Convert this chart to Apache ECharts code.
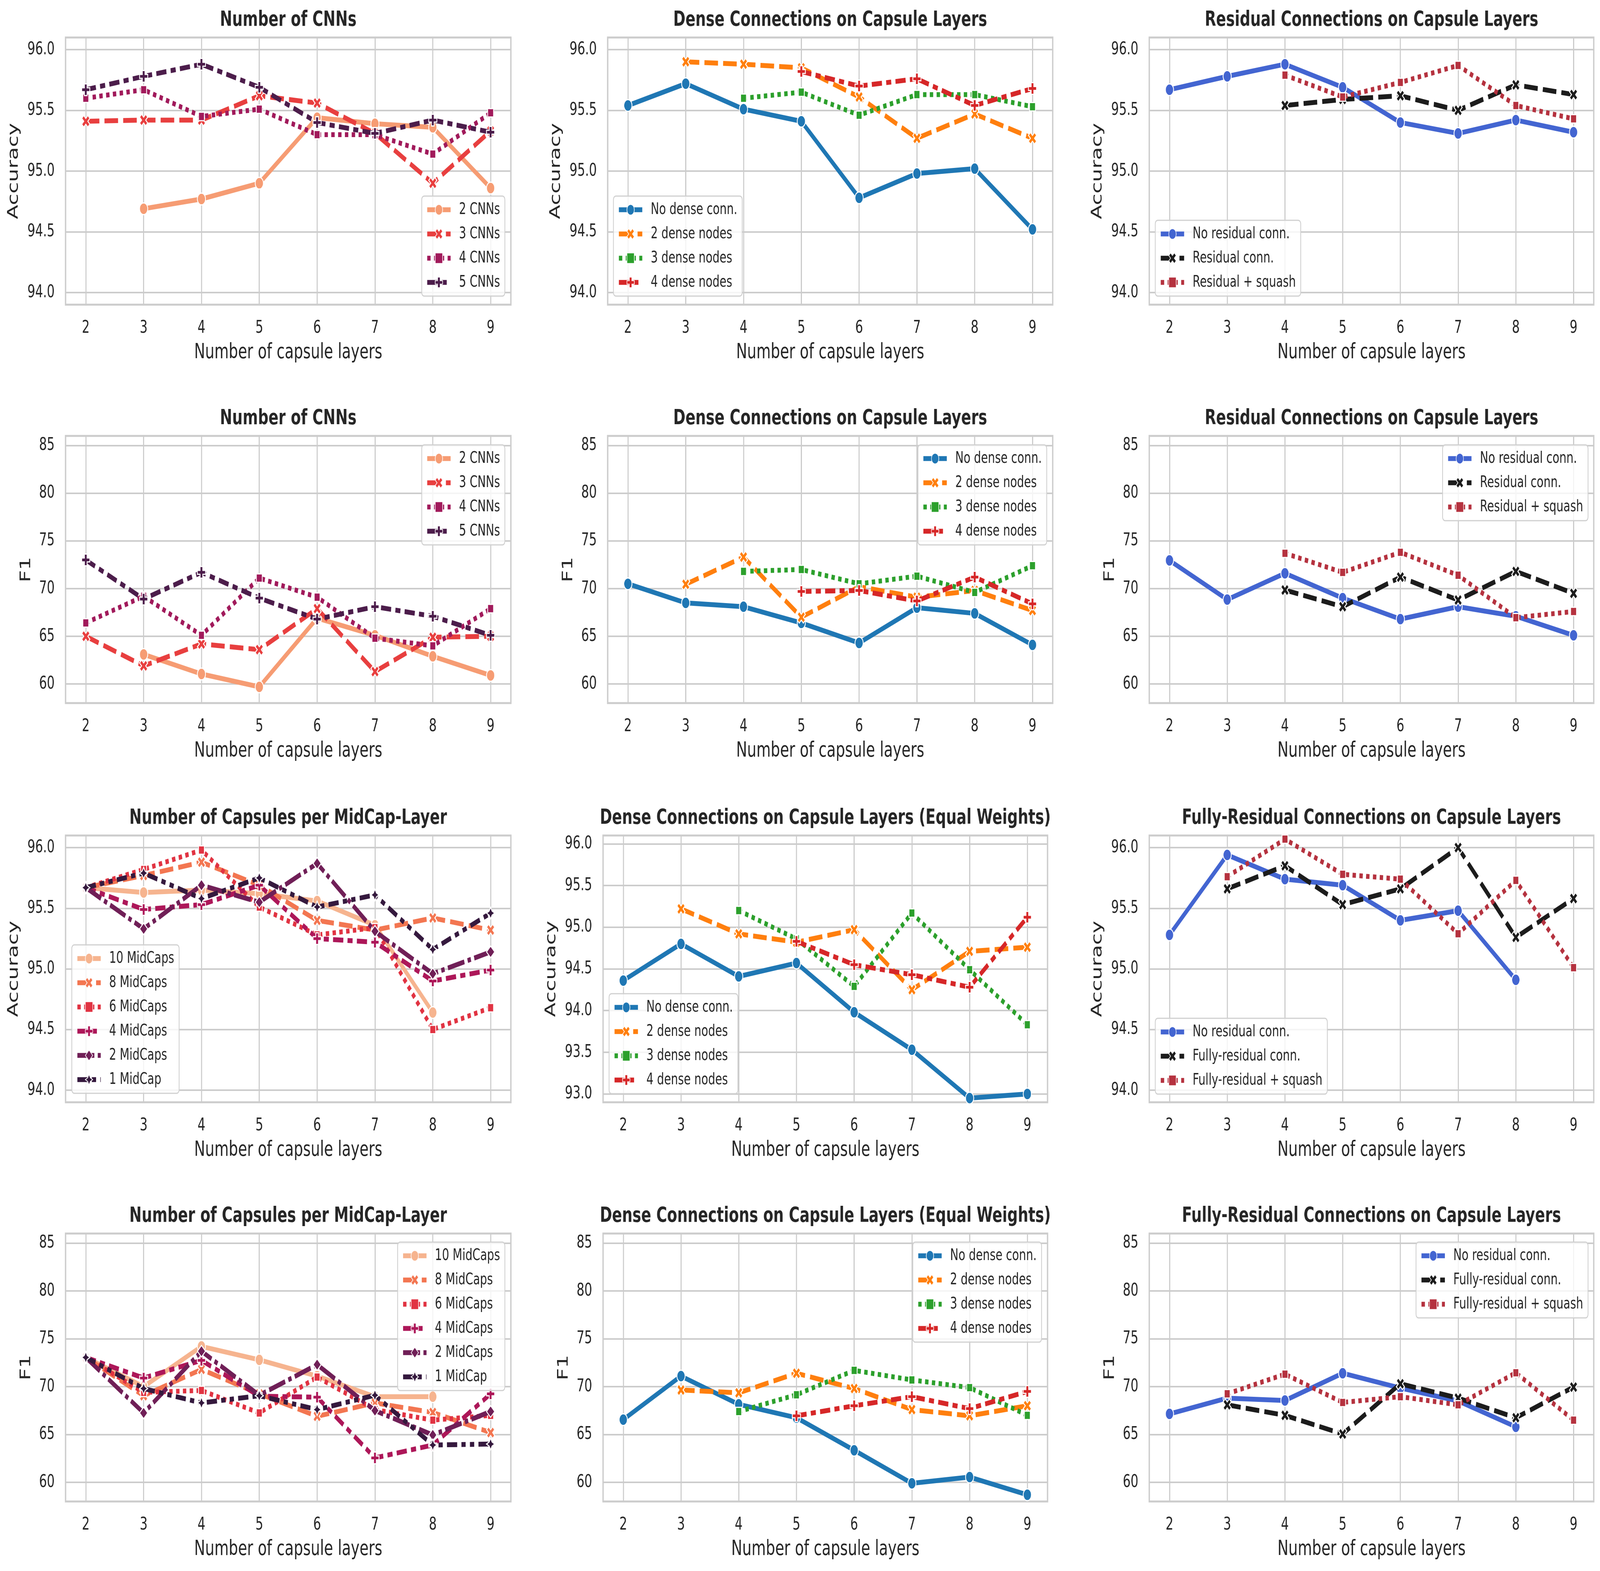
<!DOCTYPE html>
<html><head><meta charset="utf-8">
<script src="https://cdn.jsdelivr.net/npm/echarts@6/dist/echarts.min.js"></script>
<style>
html,body{margin:0;padding:0;background:#fff;overflow:hidden;}
#wrap{position:relative;overflow:hidden;background:#fff;}
#c{position:absolute;left:0;top:0;width:5882px;height:4022px;transform-origin:0 0;}
</style>
</head><body><div id="wrap"><div id="c"></div></div>
<script>
// ---------------- DATA ----------------
const layers = [2, 3, 4, 5, 6, 7, 8, 9];
const accTicks = [94.0, 94.5, 95.0, 95.5, 96.0];
const accTicksEq = [93.0, 93.5, 94.0, 94.5, 95.0, 95.5, 96.0];
const f1Ticks = [60, 65, 70, 75, 80, 85];

// Panel 1: Number of CNNs (Accuracy)
const accCnn2 = [null, 94.69, 94.77, 94.90, 95.44, 95.39, 95.36, 94.86];
const accCnn3 = [95.41, 95.42, 95.42, 95.62, 95.56, 95.31, 94.90, 95.33];
const accCnn4 = [95.60, 95.67, 95.45, 95.51, 95.30, 95.30, 95.14, 95.48];
const accCnn5 = [95.67, 95.78, 95.88, 95.69, 95.40, 95.31, 95.42, 95.32];
// Panel 2: Dense (Accuracy)
const accNoDense = [95.54, 95.72, 95.51, 95.41, 94.78, 94.98, 95.02, 94.52];
const accDense2 = [null, 95.90, 95.88, 95.85, 95.61, 95.27, 95.47, 95.27];
const accDense3 = [null, null, 95.60, 95.65, 95.46, 95.63, 95.63, 95.53];
const accDense4 = [null, null, null, 95.82, 95.70, 95.76, 95.54, 95.68];
// Panel 3: Residual (Accuracy)
const accNoRes = [95.67, 95.78, 95.88, 95.69, 95.40, 95.31, 95.42, 95.32];
const accRes = [null, null, 95.54, 95.59, 95.62, 95.50, 95.71, 95.63];
const accResSq = [null, null, 95.79, 95.61, 95.73, 95.87, 95.54, 95.43];
// Panel 4: Number of CNNs (F1)
const f1Cnn2 = [null, 63.1, 61.05, 59.7, 66.9, 65.1, 62.9, 60.9];
const f1Cnn3 = [65.0, 61.9, 64.2, 63.6, 67.9, 61.3, 64.9, 65.0];
const f1Cnn4 = [66.4, 69.2, 65.1, 71.1, 69.1, 64.8, 64.0, 67.9];
const f1Cnn5 = [73.0, 68.9, 71.7, 69.0, 66.8, 68.1, 67.1, 65.1];
// Panel 5: Dense (F1)
const f1NoDense = [70.5, 68.5, 68.1, 66.4, 64.3, 68.0, 67.4, 64.1];
const f1Dense2 = [null, 70.45, 73.3, 67.0, 70.2, 69.1, 69.8, 67.7];
const f1Dense3 = [null, null, 71.8, 72.0, 70.5, 71.3, 69.6, 72.4];
const f1Dense4 = [null, null, null, 69.7, 69.8, 68.7, 71.2, 68.4];
// Panel 6: Residual (F1)
const f1NoRes = [72.95, 68.85, 71.6, 69.0, 66.8, 68.1, 67.1, 65.1];
const f1Res = [null, null, 69.85, 68.1, 71.2, 68.8, 71.8, 69.5];
const f1ResSq = [null, null, 73.7, 71.7, 73.8, 71.4, 66.95, 67.6];
// Panel 7: MidCaps (Accuracy)
const accMid10 = [95.67, 95.63, 95.65, 95.62, 95.56, 95.36, 94.64, null];
const accMid8 = [95.67, 95.77, 95.88, 95.69, 95.40, 95.32, 95.42, 95.32];
const accMid6 = [95.67, 95.82, 95.98, 95.51, 95.28, 95.34, 94.50, 94.68];
const accMid4 = [95.67, 95.49, 95.53, 95.69, 95.25, 95.22, 94.90, 94.99];
const accMid2 = [95.67, 95.33, 95.69, 95.55, 95.87, 95.31, 94.96, 95.14];
const accMid1 = [95.67, 95.79, 95.58, 95.75, 95.51, 95.61, 95.16, 95.46];
// Panel 8: Dense equal weights (Accuracy)
const accEqNoDense = [94.36, 94.80, 94.41, 94.57, 93.98, 93.53, 92.95, 93.00];
const accEqDense2 = [null, 95.22, 94.92, 94.82, 94.97, 94.25, 94.71, 94.76];
const accEqDense3 = [null, null, 95.20, 94.86, 94.29, 95.17, 94.49, 93.83];
const accEqDense4 = [null, null, null, 94.83, 94.55, 94.43, 94.28, 95.12];
// Panel 9: Fully-residual (Accuracy)
const accFullNoRes = [95.28, 95.94, 95.74, 95.69, 95.40, 95.48, 94.91, null];
const accFullRes = [null, 95.66, 95.85, 95.53, 95.66, 96.00, 95.26, 95.58];
const accFullResSq = [null, 95.76, 96.07, 95.78, 95.74, 95.29, 95.73, 95.01];
// Panel 10: MidCaps (F1)
const f1Mid10 = [73.05, 70.0, 74.2, 72.8, 71.1, 68.95, 68.95, null];
const f1Mid8 = [73.05, 69.05, 71.8, 69.25, 66.9, 68.3, 67.3, 65.2];
const f1Mid6 = [73.05, 69.4, 69.6, 67.25, 71.0, 67.6, 66.5, 67.0];
const f1Mid4 = [73.05, 70.9, 72.75, 69.0, 68.9, 62.55, 63.9, 69.25];
const f1Mid2 = [73.05, 67.25, 73.7, 69.1, 72.3, 67.5, 64.95, 67.4];
const f1Mid1 = [73.05, 69.8, 68.3, 69.05, 67.6, 69.1, 63.9, 64.0];
// Panel 11: Dense equal weights (F1)
const f1EqNoDense = [66.55, 71.1, 68.15, 66.75, 63.35, 59.9, 60.55, 58.7];
const f1EqDense2 = [null, 69.65, 69.35, 71.4, 69.8, 67.6, 66.95, 68.0];
const f1EqDense3 = [null, null, 67.4, 69.15, 71.7, 70.7, 69.9, 67.0];
const f1EqDense4 = [null, null, null, 66.95, 68.0, 68.95, 67.7, 69.5];
// Panel 12: Fully-residual (F1)
const f1FullNoRes = [67.15, 68.8, 68.55, 71.4, 69.85, 68.5, 65.8, null];
const f1FullRes = [null, 68.1, 67.0, 65.05, 70.3, 68.8, 66.75, 69.95];
const f1FullResSq = [null, 69.25, 71.3, 68.35, 68.95, 68.1, 71.45, 66.5];

const namesCnn = ['2 CNNs', '3 CNNs', '4 CNNs', '5 CNNs'];
const namesDense = ['No dense conn.', '2 dense nodes', '3 dense nodes', '4 dense nodes'];
const namesRes = ['No residual conn.', 'Residual conn.', 'Residual + squash'];
const namesMid = ['10 MidCaps', '8 MidCaps', '6 MidCaps', '4 MidCaps', '2 MidCaps', '1 MidCap'];
const namesFull = ['No residual conn.', 'Fully-residual conn.', 'Fully-residual + squash'];

// ---------------- STYLE ----------------
const FONT = 'DejaVu Sans';
const TXT = '#262626';
const GRIDC = '#cccccc';
const LW = 12.5;
const MS = 30;
const colCnn = ['#f69c73', '#e83f3f', '#a11a5b', '#4c1d4b'];
const colMid = ['#f6b48f', '#f37651', '#e13342', '#ad1759', '#701f57', '#35193e'];
const colDense = ['#1f77b4', '#ff7f0e', '#2ca02c', '#d62728'];
const colRes = ['#4365d1', '#1c1c1c', '#b5323f'];
const DASHES = [null, [4, 1.5], [1, 1], [3, 1.25, 1.5, 1.25], [5, 1, 1, 1], [3, 1.25, 1.25, 1.25, 1.25, 1.25]];
const MARKERS = [
  ['circle', 1],
  ['path://M-5,-10L0,-5L5,-10L10,-5L5,0L10,5L5,10L0,5L-5,10L-10,5L-5,0L-10,-5Z', 1],
  ['rect', 0.72],
  ['path://M-1,-3L1,-3L1,-1L3,-1L3,1L1,1L1,3L-1,3L-1,1L-3,1L-3,-1L-1,-1Z', 1],
  ['diamond', 1],
  ['path://M0,-10L3.54,-3.54L10,0L3.54,3.54L0,10L-3.54,3.54L-10,0L-3.54,-3.54Z', 1]
];

const W = 5882, H = 4022;
const accRange = [93.9, 96.1], accRangeEq = [92.9, 96.1], f1Range = [58, 86];

const panels = [
  {title: 'Number of CNNs', y: 'Accuracy', ticks: accTicks, range: accRange, frame: [241, 96, 1878, 780],
   names: namesCnn, vals: [accCnn2, accCnn3, accCnn4, accCnn5], cols: colCnn, leg: {right: W - 1856, bottom: H - 758}},
  {title: 'Dense Connections on Capsule Layers', y: 'Accuracy', ticks: accTicks, range: accRange, frame: [2234, 96, 3870, 780],
   names: namesDense, vals: [accNoDense, accDense2, accDense3, accDense4], cols: colDense, leg: {left: 2255, bottom: H - 758}},
  {title: 'Residual Connections on Capsule Layers', y: 'Accuracy', ticks: accTicks, range: accRange, frame: [4225, 96, 5859, 780],
   names: namesRes, vals: [accNoRes, accRes, accResSq], cols: colRes, leg: {left: 4247, bottom: H - 758}},
  {title: 'Number of CNNs', y: 'F1', ticks: f1Ticks, range: f1Range, frame: [241, 1116, 1878, 1800],
   names: namesCnn, vals: [f1Cnn2, f1Cnn3, f1Cnn4, f1Cnn5], cols: colCnn, leg: {right: W - 1856, top: 1139}},
  {title: 'Dense Connections on Capsule Layers', y: 'F1', ticks: f1Ticks, range: f1Range, frame: [2234, 1116, 3870, 1800],
   names: namesDense, vals: [f1NoDense, f1Dense2, f1Dense3, f1Dense4], cols: colDense, leg: {right: W - 3848, top: 1139}},
  {title: 'Residual Connections on Capsule Layers', y: 'F1', ticks: f1Ticks, range: f1Range, frame: [4225, 1116, 5859, 1800],
   names: namesRes, vals: [f1NoRes, f1Res, f1ResSq], cols: colRes, leg: {right: W - 5838, top: 1139}},
  {title: 'Number of Capsules per MidCap-Layer', y: 'Accuracy', ticks: accTicks, range: accRange, frame: [241, 2139, 1878, 2822],
   names: namesMid, vals: [accMid10, accMid8, accMid6, accMid4, accMid2, accMid1], cols: colMid, leg: {left: 264, top: 2419}},
  {title: 'Dense Connections on Capsule Layers (Equal Weights)', y: 'Accuracy', ticks: accTicksEq, range: accRangeEq, frame: [2217, 2139, 3851, 2822],
   names: namesDense, vals: [accEqNoDense, accEqDense2, accEqDense3, accEqDense4], cols: colDense, leg: {left: 2239, bottom: H - 2800}},
  {title: 'Fully-Residual Connections on Capsule Layers', y: 'Accuracy', ticks: accTicks, range: accRange, frame: [4225, 2139, 5859, 2822],
   names: namesFull, vals: [accFullNoRes, accFullRes, accFullResSq], cols: colRes, leg: {left: 4247, bottom: H - 2801}},
  {title: 'Number of Capsules per MidCap-Layer', y: 'F1', ticks: f1Ticks, range: f1Range, frame: [241, 3158, 1878, 3844],
   names: namesMid, vals: [f1Mid10, f1Mid8, f1Mid6, f1Mid4, f1Mid2, f1Mid1], cols: colMid, leg: {right: W - 1856, top: 3180}},
  {title: 'Dense Connections on Capsule Layers (Equal Weights)', y: 'F1', ticks: f1Ticks, range: f1Range, frame: [2217, 3158, 3851, 3844],
   names: namesDense, vals: [f1EqNoDense, f1EqDense2, f1EqDense3, f1EqDense4], cols: colDense, leg: {right: W - 3829, top: 3180}},
  {title: 'Fully-Residual Connections on Capsule Layers', y: 'F1', ticks: f1Ticks, range: f1Range, frame: [4225, 3158, 5859, 3844],
   names: namesFull, vals: [f1FullNoRes, f1FullRes, f1FullResSq], cols: colRes, leg: {right: W - 5838, top: 3180}}
];

const option = {animation: false, backgroundColor: '#ffffff', grid: [], xAxis: [], yAxis: [], title: [], legend: [], series: []};

panels.forEach((p, i) => {
  const [L, T, R, B] = p.frame;
  option.grid.push({left: L, top: T, width: R - L, height: B - T, show: true, backgroundColor: '#ffffff',
    borderColor: GRIDC, borderWidth: 5, containLabel: false, outerBoundsMode: 'none'});
  option.title.push({text: p.title, left: (L + R) / 2, top: T - 75, textAlign: 'center', padding: 0,
    textStyle: {fontFamily: FONT, fontSize: 54, fontWeight: 'bold', color: TXT, lineHeight: 62}});
  option.xAxis.push({gridIndex: i, type: 'value', min: 1.65, max: 9.35,
    name: 'Number of capsule layers', nameLocation: 'middle', nameGap: 92,
    nameTextStyle: {fontFamily: FONT, fontSize: 54, color: TXT, lineHeight: 62},
    axisLine: {show: false}, axisTick: {show: false, customValues: layers},
    axisLabel: {customValues: layers, margin: 34, fontFamily: FONT, fontSize: 45, color: TXT, lineHeight: 52},
    splitLine: {show: true, lineStyle: {color: GRIDC, width: 4}}});
  const isAcc = p.y === 'Accuracy';
  option.yAxis.push({gridIndex: i, type: 'value', min: p.range[0], max: p.range[1],
    name: p.y, nameLocation: 'middle', nameGap: isAcc ? 159 : 113,
    nameTextStyle: {fontFamily: FONT, fontSize: 54, color: TXT, lineHeight: 62},
    axisLine: {show: false}, axisTick: {show: false, customValues: p.ticks},
    axisLabel: {customValues: p.ticks, margin: 40, fontFamily: FONT, fontSize: 45, color: TXT,
      formatter: v => isAcc ? Number(v).toFixed(1) : String(Math.round(v))},
    splitLine: {show: true, lineStyle: {color: GRIDC, width: 4}}});
  option.legend.push(Object.assign({
    data: p.names.slice(), orient: 'vertical', itemWidth: 86, itemHeight: 34, itemGap: 16,
    padding: [12, 18, 12, 14], backgroundColor: 'rgba(255,255,255,0.8)', borderColor: '#d0d0d0',
    borderWidth: 3, borderRadius: 9, selectedMode: false,
    lineStyle: {width: LW},
    textStyle: {fontFamily: FONT, fontSize: 41, color: TXT, lineHeight: 46, padding: [0, 0, 0, 26]}
  }, p.leg));
  p.vals.forEach((vals, k) => {
    const data = [];
    layers.forEach((x, j) => { if (vals[j] != null) data.push([x, vals[j]]); });
    const dash = DASHES[k];
    const mk = MARKERS[k];
    option.series.push({
      type: 'line', name: p.names[k], xAxisIndex: i, yAxisIndex: i, data: data,
      symbol: mk[0], symbolSize: MS * mk[1], showSymbol: true, showAllSymbol: true,
      lineStyle: {color: p.cols[k], width: LW, type: dash ? dash.map(d => d * LW) : 'solid', join: 'round', cap: 'butt'},
      itemStyle: {color: p.cols[k], borderColor: '#ffffff', borderWidth: 3},
      emphasis: {disabled: true}, z: 2 + k * 0.01
    });
  });
});

// The 5882x4022 drawing is mapped onto the real viewport (which may be narrower than requested),
// exactly as if the whole figure were resized to the window.
const vw = window.innerWidth || document.documentElement.clientWidth || W;
const vh = window.innerHeight || document.documentElement.clientHeight || H;
const sx = vw / W, sy = vh / H;
const wrap = document.getElementById('wrap');
wrap.style.width = vw + 'px';
wrap.style.height = vh + 'px';
const el = document.getElementById('c');
el.style.transform = 'scale(' + sx + ',' + sy + ')';
const chart = echarts.init(el, null, {renderer: 'canvas', width: W, height: H,
  devicePixelRatio: Math.max(1, (window.devicePixelRatio || 1) * Math.max(sx, sy))});
chart.setOption(option);
</script>
</body></html>
